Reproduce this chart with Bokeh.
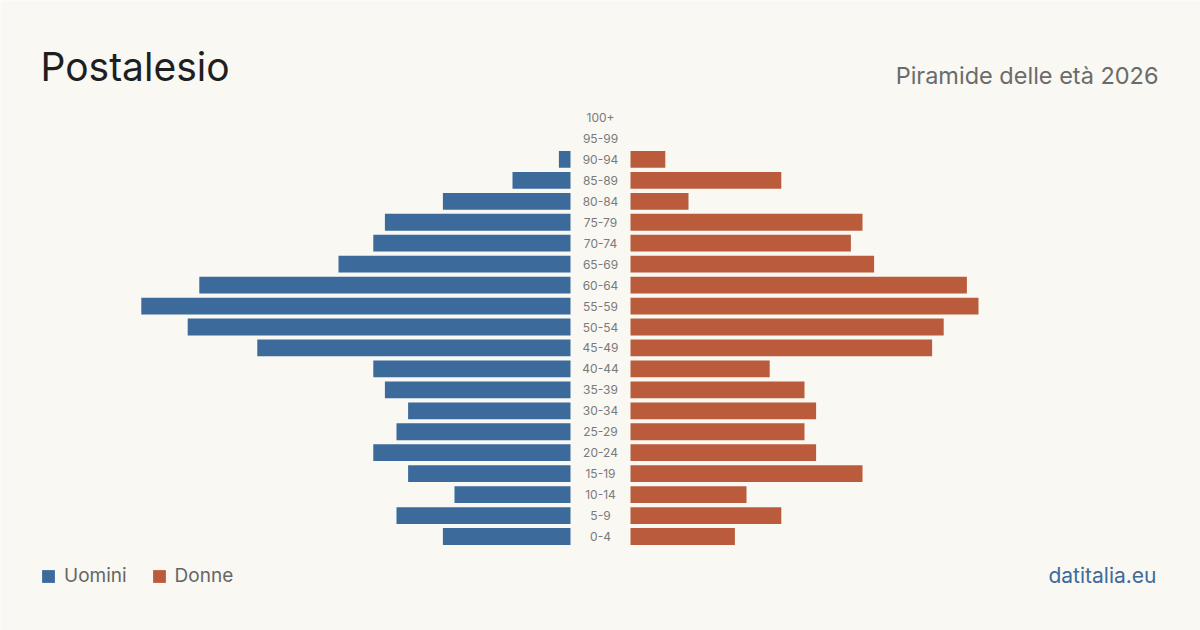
from bokeh.plotting import figure
from bokeh.models import ColumnDataSource, Label, Legend, LegendItem, Range1d
from bokeh.core.properties import value
from bokeh.embed import file_html
from bokeh.resources import INLINE

# Age classes from youngest to oldest
age_groups = ["0-4", "5-9", "10-14", "15-19", "20-24", "25-29", "30-34", "35-39",
              "40-44", "45-49", "50-54", "55-59", "60-64", "65-69", "70-74",
              "75-79", "80-84", "85-89", "90-94", "95-99", "100+"]
men = [11, 15, 10, 14, 17, 15, 14, 16, 17, 27, 33, 37, 32, 20, 17, 16, 11, 5, 1, 0, 0]
women = [9, 13, 10, 20, 16, 15, 16, 15, 12, 26, 27, 30, 29, 21, 19, 20, 5, 13, 3, 0, 0]

BG = "#f9f8f3"
BLUE = "#3b6a9b"
ORANGE = "#ba5c3b"
FONT = "Inter"

W, H = 1200, 630
PX_PER_UNIT = 11.6          # horizontal scale: pixels per person
ROW_PX = 20.95              # vertical distance between age rows
GAP = 30 / PX_PER_UNIT      # half-width of the central label column
ZERO_ROW_PX = 536           # pixel row of the youngest class

rows = list(range(len(age_groups)))
src = ColumnDataSource(dict(
    y=rows,
    label=age_groups,
    m_left=[-(GAP + v) for v in men],
    m_right=[-GAP] * len(men),
    f_left=[GAP] * len(women),
    f_right=[GAP + v for v in women],
    zero=[0] * len(rows),
))

half_w = (W / 2) / PX_PER_UNIT
p = figure(width=W, height=H, output_backend="svg", toolbar_location=None,
           x_axis_type=None, y_axis_type=None,
           x_range=Range1d(-half_w, half_w),
           y_range=Range1d((ZERO_ROW_PX - H) / ROW_PX, ZERO_ROW_PX / ROW_PX),
           min_border=0, background_fill_color=BG, border_fill_color=BG,
           outline_line_color=None)
p.grid.visible = False

r_m = p.hbar(y="y", left="m_left", right="m_right", height=0.8,
             color=BLUE, line_color=None, source=src)
r_f = p.hbar(y="y", left="f_left", right="f_right", height=0.8,
             color=ORANGE, line_color=None, source=src)

p.text(x="zero", y="y", text="label", source=src, text_align="center",
       text_baseline="middle", text_font=value(FONT), text_font_size="12px",
       text_color="#7a7a7a")

p.add_layout(Label(x=40, y=H - 66, x_units="screen", y_units="screen",
                   text="Postalesio", text_font=FONT, text_font_size="39px",
                   text_color="#1f1f1f", text_baseline="alphabetic"))
p.add_layout(Label(x=1158, y=H - 75, x_units="screen", y_units="screen",
                   text="Piramide delle età 2026", text_font=FONT,
                   text_font_size="23.5px", text_color="#6b6b6b",
                   text_align="right", text_baseline="alphabetic"))
p.add_layout(Label(x=1156, y=H - 575, x_units="screen", y_units="screen",
                   text="datitalia.eu", text_font=FONT, text_font_size="21px",
                   text_color="#3d6b9e", text_align="right",
                   text_baseline="alphabetic"))

legend = Legend(items=[LegendItem(label="Uomini", renderers=[r_m]),
                       LegendItem(label="Donne", renderers=[r_f])],
                location=(40, H - 587), orientation="horizontal",
                glyph_width=16, glyph_height=16, label_height=16,
                label_standoff=8, spacing=24, padding=0, margin=0,
                label_text_font=FONT, label_text_font_size="19px",
                label_text_color="#666666", background_fill_alpha=0,
                border_line_color=None)
p.add_layout(legend)

open("out.html", "w").write(file_html(p, INLINE))
